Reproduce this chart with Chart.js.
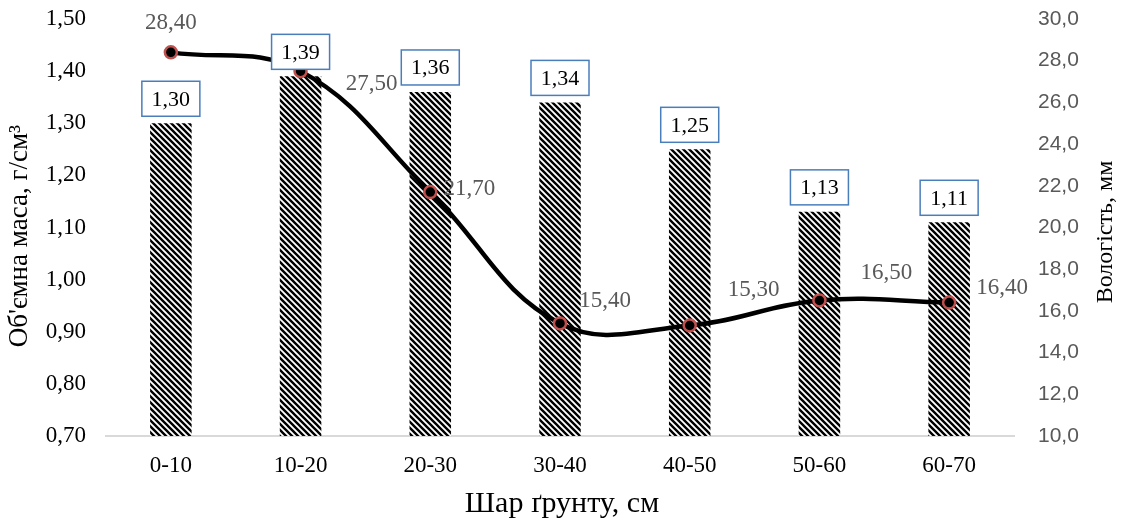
<!DOCTYPE html>
<html>
<head>
<meta charset="utf-8">
<script src="https://cdn.jsdelivr.net/npm/chart.js@4.4.0/dist/chart.umd.min.js"></script>
<style>
  html, body { margin: 0; padding: 0; background: #fff; }
  #wrap { width: 1125px; height: 524px; }
</style>
</head>
<body>
<div id="wrap"><canvas id="chart" width="1125" height="524"></canvas></div>
<script>
"use strict";

///////////////////////////////////////
// Data

const layers = ["0-10", "10-20", "20-30", "30-40", "40-50", "50-60", "60-70"];
const density = [1.30, 1.39, 1.36, 1.34, 1.25, 1.13, 1.11];
const moisture = [28.4, 27.5, 21.7, 15.4, 15.3, 16.5, 16.4];

const serif = "'Liberation Serif', 'DejaVu Serif', serif";
const sans = "'Liberation Sans', 'DejaVu Sans', sans-serif";

const fmt = (v, d) => v.toFixed(d).replace(".", ",");

///////////////////////////////////////
// Hatch pattern

const makeHatch = function () {
  const c = document.createElement("canvas");
  c.width = 6;
  c.height = 6;
  const g = c.getContext("2d");
  g.fillStyle = "#fff";
  g.fillRect(0, 0, 6, 6);
  g.strokeStyle = "#000";
  g.lineWidth = 2.4;
  g.beginPath();
  g.moveTo(-3, -3); g.lineTo(9, 9);
  g.moveTo(-3, 3); g.lineTo(3, 9);
  g.moveTo(3, -3); g.lineTo(9, 3);
  g.stroke();
  return document.getElementById("chart").getContext("2d").createPattern(c, "repeat");
};

///////////////////////////////////////
// Labels + titles plugin

const labelPlugin = {
  id: "labels",
  afterDatasetsDraw(chart, args, opts) {
    const ctx = chart.ctx;
    ctx.save();
    ctx.textAlign = "center";
    ctx.textBaseline = "middle";

    // boxed bar labels
    chart.getDatasetMeta(0).data.forEach(function (bar, i) {
      const w = 58, h = 35;
      const x = bar.x, yb = bar.y - 7;
      ctx.fillStyle = "#fff";
      ctx.fillRect(x - w / 2, yb - h, w, h);
      ctx.strokeStyle = "#4a7ebb";
      ctx.lineWidth = 1.5;
      ctx.strokeRect(x - w / 2, yb - h, w, h);
      ctx.fillStyle = "#000";
      ctx.font = "22px " + serif;
      ctx.fillText(fmt(density[i], 2), x, yb - h / 2 + 1);
    });

    // line labels
    ctx.fillStyle = "#595959";
    ctx.font = "23px " + serif;
    chart.getDatasetMeta(1).data.forEach(function (pt, i) {
      const off = opts.offsets[i];
      ctx.fillText(fmt(moisture[i], 2), pt.x + off[0], pt.y + off[1]);
    });

    // axis titles
    ctx.fillStyle = "#000";
    ctx.font = "30px " + serif;
    ctx.fillText("Шар ґрунту, см", 562, 504);

    ctx.font = "27px " + serif;
    ctx.save();
    ctx.translate(20, 236);
    ctx.rotate(-Math.PI / 2);
    ctx.fillText("Об'ємна маса, г/см³", 0, 0);
    ctx.restore();

    ctx.font = "24px " + serif;
    ctx.save();
    ctx.translate(1106, 232);
    ctx.rotate(-Math.PI / 2);
    ctx.fillText("Вологість, мм", 0, 0);
    ctx.restore();

    ctx.restore();
  },
};

const fitY = function (w) {
  return function (s) {
    s.width = w;
    s.paddingTop = 0;
    s.paddingBottom = 0;
  };
};

///////////////////////////////////////
// Chart config

const config = {
  type: "bar",
  data: {
    labels: layers,
    datasets: [
      {
        label: "Об'ємна маса",
        data: density,
        yAxisID: "y",
        backgroundColor: makeHatch(),
        borderWidth: 0,
        barPercentage: 0.32,
        categoryPercentage: 1,
        order: 1,
      },
      {
        type: "line",
        label: "Вологість",
        data: moisture,
        yAxisID: "y2",
        borderColor: "#000",
        borderWidth: 4.5,
        tension: 0.4,
        pointRadius: 6,
        pointBackgroundColor: "#000",
        pointBorderColor: "#c0504d",
        pointBorderWidth: 2.5,
        order: 0,
      },
    ],
  },
  options: {
    responsive: false,
    animation: false,
    layout: { padding: { top: 19, left: 0, right: 0, bottom: 0 } },
    plugins: {
      legend: { display: false },
      tooltip: { enabled: false },
      labels: {
        offsets: [[0, -29], [71, 13], [39, -3], [45, -22], [64, -36], [67, -28], [53, -15]],
      },
    },
    scales: {
      x: {
        grid: { display: false, drawTicks: false },
        border: { display: true, color: "#d9d9d9", width: 2 },
        ticks: { color: "#000", font: { family: serif, size: 23 }, padding: 16 },
        afterFit(s) { s.height = 88; },
      },
      y: {
        position: "left",
        min: 0.7,
        max: 1.5,
        grid: { display: false, drawTicks: false },
        border: { display: false },
        ticks: {
          stepSize: 0.1,
          color: "#000",
          font: { family: serif, size: 23 },
          padding: 20,
          callback: (v) => fmt(v, 2),
        },
        afterFit: fitY(106),
      },
      y2: {
        position: "right",
        min: 10,
        max: 30,
        grid: { display: false, drawTicks: false },
        border: { display: false },
        ticks: {
          stepSize: 2,
          color: "#595959",
          font: { family: sans, size: 21 },
          padding: 24,
          callback: (v) => fmt(v, 1),
        },
        afterFit: fitY(111),
      },
    },
  },
  plugins: [labelPlugin],
};

///////////////////////////////////////
// Chart display

const chart = new Chart(document.getElementById("chart"), config);
</script>
</body>
</html>
